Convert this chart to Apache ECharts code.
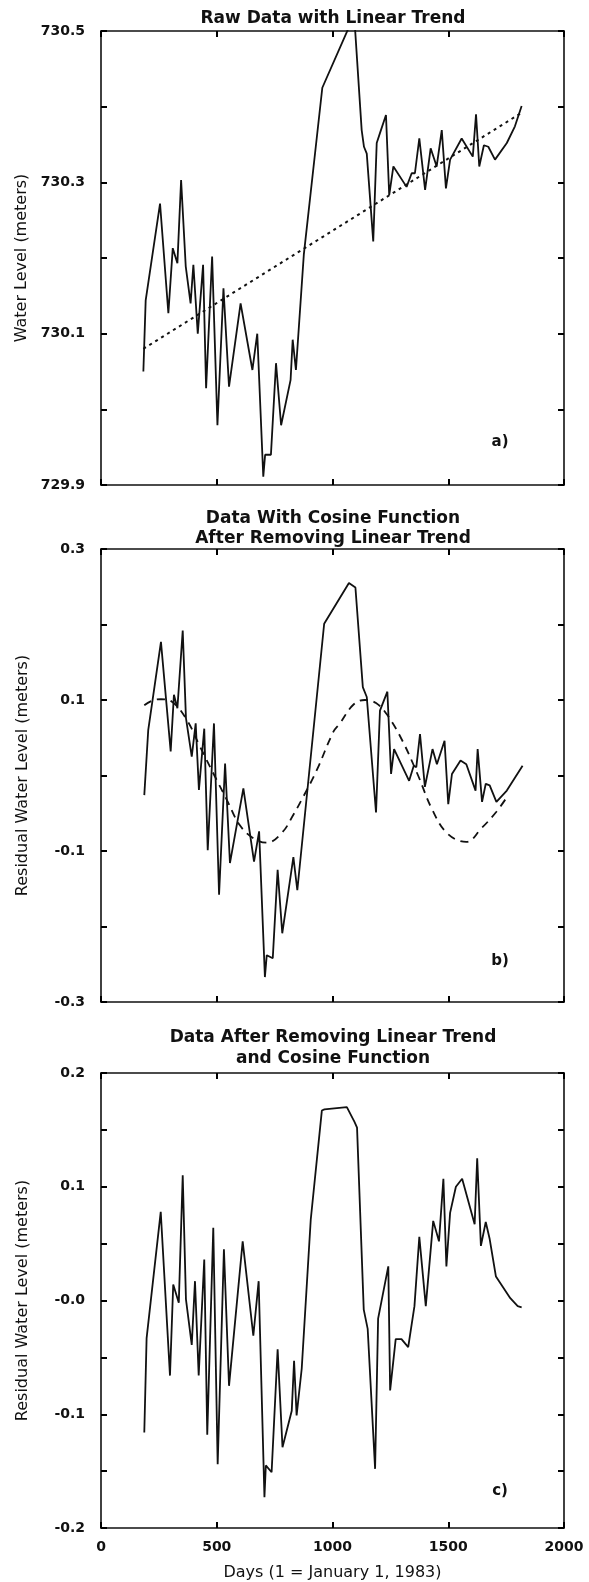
<!DOCTYPE html>
<html>
<head>
<meta charset="utf-8">
<style>
html,body{margin:0;padding:0;background:#fff;}
#chart{width:589px;height:1582px;}
</style>
<script src="https://cdn.jsdelivr.net/npm/echarts@6/dist/echarts.min.js"></script>
</head>
<body>
<div id="chart"></div>
<script>
// ---- Panel a: raw water level (meters) ----
const rawDays = [183,193,255,291,310,330,346,366,387,399,418,441,454,480,503,529,553,603,654,675,701,709,734,756,778,819,828,842,876,956,1071,1097,1126,1136,1148,1176,1191,1205,1231,1245,1263,1320,1342,1356,1375,1400,1424,1450,1472,1490,1508,1558,1606,1620,1634,1654,1673,1702,1753,1788,1817];
const rawLevels = [730.050,730.144,730.272,730.127,730.213,730.193,730.303,730.189,730.140,730.191,730.100,730.191,730.028,730.202,729.979,730.160,730.030,730.140,730.052,730.100,729.911,729.940,729.940,730.061,729.979,730.039,730.092,730.052,730.204,730.425,730.505,730.505,730.369,730.347,730.338,730.222,730.352,730.365,730.389,730.283,730.321,730.294,730.312,730.312,730.358,730.290,730.345,730.321,730.369,730.292,730.330,730.358,730.334,730.390,730.321,730.349,730.347,730.330,730.352,730.374,730.401];
const trendDays = [183,1817];
const trendLevels = [730.080,730.392];

// ---- Panel b: residual after removing linear trend, with fitted cosine ----
const residDays = [187,204,259,301,315,330,353,367,392,409,423,446,461,488,510,536,557,615,661,683,708,716,742,763,783,831,848,964,1071,1099,1131,1148,1188,1205,1237,1253,1266,1331,1351,1362,1378,1399,1432,1451,1484,1500,1516,1553,1578,1618,1627,1646,1662,1679,1708,1753,1821];
const residLevels = [-0.026,0.060,0.177,0.032,0.107,0.089,0.192,0.076,0.025,0.069,-0.019,0.062,-0.099,0.069,-0.158,0.016,-0.116,-0.017,-0.114,-0.074,-0.267,-0.238,-0.242,-0.125,-0.209,-0.108,-0.152,0.201,0.255,0.249,0.117,0.104,-0.049,0.086,0.111,0.002,0.035,-0.007,0.013,0.011,0.055,-0.015,0.035,0.015,0.046,-0.038,0.002,0.020,0.015,-0.020,0.035,-0.035,-0.011,-0.013,-0.035,-0.020,0.013];
const cosineDays = [187,220,259,305,370,428,485,543,600,658,716,781,831,874,932,1004,1032,1091,1140,1188,1237,1302,1367,1432,1497,1578,1643,1708,1757];
const cosineLevels = [0.093,0.099,0.101,0.098,0.074,0.038,0.003,-0.032,-0.066,-0.083,-0.089,-0.076,-0.052,-0.028,0.007,0.058,0.069,0.094,0.100,0.096,0.080,0.046,0.002,-0.046,-0.077,-0.088,-0.070,-0.048,-0.027];

// ---- Panel c: residual after removing trend and cosine ----
const finalDays = [187,197,258,298,312,336,353,367,392,406,422,446,459,485,504,531,553,612,658,681,706,712,737,763,784,824,834,845,867,906,954,965,1062,1095,1106,1135,1152,1184,1197,1241,1249,1273,1298,1327,1354,1375,1403,1435,1460,1479,1492,1508,1533,1560,1614,1625,1641,1662,1679,1706,1768,1800,1817];
const finalLevels = [-0.116,-0.033,0.078,-0.066,0.014,-0.002,0.110,0.001,-0.039,0.017,-0.066,0.036,-0.118,0.064,-0.144,0.045,-0.075,0.052,-0.031,0.017,-0.173,-0.145,-0.151,-0.043,-0.129,-0.097,-0.053,-0.101,-0.060,0.071,0.167,0.168,0.170,0.157,0.152,-0.008,-0.025,-0.148,-0.016,0.030,-0.079,-0.034,-0.034,-0.041,-0.005,0.056,-0.005,0.070,0.052,0.107,0.030,0.077,0.100,0.107,0.067,0.125,0.048,0.069,0.054,0.021,0.002,-0.005,-0.006];

// ---- Tick labels ----
const xTickLabels = ['0','500','1000','1500','2000'];
const yTickLabelsA = ['729.9','730.1','730.3','730.5'];
const yTickLabelsB = ['-0.3','-0.1','0.1','0.3'];
const yTickLabelsC = ['-0.2','-0.1','-0.0','0.1','0.2'];

// ---- Texts ----
const titles = ['Raw Data with Linear Trend','Data With Cosine Function\nAfter Removing Linear Trend','Data After Removing Linear Trend\nand Cosine Function'];
const panelTags = ['a)','b)','c)'];
const yNames = ['Water Level (meters)','Residual Water Level (meters)','Residual Water Level (meters)'];
const xName = 'Days (1 = January 1, 1983)';

const zip = (xs, ys) => xs.map((x, i) => [x, ys[i]]);
const FONT = 'DejaVu Sans';
const INK = '#111';
const TICK_INK = '#000';

function pickLabel(list) {
  return function (v) {
    const s = list.find(l => Math.abs(parseFloat(l) - v) < 1e-6);
    return s === undefined ? '' : s;
  };
}

const grids = [
  {left: 101, top: 31, width: 463, height: 454},
  {left: 101, top: 549, width: 463, height: 453},
  {left: 101, top: 1073, width: 463, height: 457}
].map(g => Object.assign({show: false, containLabel: false}, g));

function mkTick() { return {show: true, inside: true, length: 6, lineStyle: {color: TICK_INK, width: 2}}; }
function mkLine() { return {show: true, onZero: false, lineStyle: {color: INK, width: 1.6}}; }

const xAxes = [];
const yAxes = [];
const yRanges = [[729.9, 730.5, 0.1, yTickLabelsA], [-0.3, 0.3, 0.1, yTickLabelsB], [-0.2, 0.2, 0.05, yTickLabelsC]];
for (let i = 0; i < 3; i++) {
  const last = i === 2;
  xAxes.push({
    type: 'value', gridIndex: i, position: 'bottom', min: 0, max: 2000, interval: 500,
    axisLine: mkLine(), axisTick: mkTick(), splitLine: {show: false},
    axisLabel: {show: last, margin: 12, color: INK, fontFamily: FONT, fontWeight: 'bold', fontSize: 14, formatter: pickLabel(xTickLabels)},
    name: last ? xName : '', nameLocation: 'middle', nameGap: 37,
    nameTextStyle: {color: INK, fontFamily: FONT, fontSize: 16}
  });
  xAxes.push({
    type: 'value', gridIndex: i, position: 'top', min: 0, max: 2000, interval: 500,
    axisLine: mkLine(), axisTick: mkTick(), splitLine: {show: false}, axisLabel: {show: false}
  });
  const r = yRanges[i];
  yAxes.push({
    type: 'value', gridIndex: i, position: 'left', min: r[0], max: r[1], interval: r[2],
    axisLine: mkLine(), axisTick: mkTick(), splitLine: {show: false},
    axisLabel: {margin: 16, color: INK, fontFamily: FONT, fontWeight: 'bold', fontSize: 14, formatter: pickLabel(r[3])},
    name: yNames[i], nameLocation: 'middle', nameGap: 70, nameRotate: 90,
    nameTextStyle: {color: INK, fontFamily: FONT, fontSize: 16}
  });
  yAxes.push({
    type: 'value', gridIndex: i, position: 'right', min: r[0], max: r[1], interval: r[2],
    axisLine: mkLine(), axisTick: mkTick(), splitLine: {show: false}, axisLabel: {show: false}
  });
}

const solid = {color: INK, width: 1.8, type: 'solid'};
const series = [
  {name: 'Raw', type: 'line', xAxisIndex: 0, yAxisIndex: 0, data: zip(rawDays, rawLevels), showSymbol: false, lineStyle: solid, z: 3},
  {name: 'Trend', type: 'line', xAxisIndex: 0, yAxisIndex: 0, data: zip(trendDays, trendLevels), showSymbol: false, lineStyle: {color: INK, width: 2, type: [3, 4]}, z: 2},
  {name: 'Residual', type: 'line', xAxisIndex: 2, yAxisIndex: 2, data: zip(residDays, residLevels), showSymbol: false, lineStyle: solid, z: 3},
  {name: 'Cosine', type: 'line', xAxisIndex: 2, yAxisIndex: 2, data: zip(cosineDays, cosineLevels), showSymbol: false, smooth: 0.4, lineStyle: {color: INK, width: 1.8, type: [8, 6]}, z: 2},
  {name: 'Final', type: 'line', xAxisIndex: 4, yAxisIndex: 4, data: zip(finalDays, finalLevels), showSymbol: false, lineStyle: solid, z: 3}
];

const titleStyle = {color: INK, fontFamily: FONT, fontWeight: 'bold', fontSize: 17, lineHeight: 20};
const tagStyle = {color: INK, fontFamily: FONT, fontWeight: 'bold', fontSize: 15, lineHeight: 18};
const title = [
  {text: titles[0], left: 333, top: 9, textAlign: 'center', padding: 0, textStyle: titleStyle},
  {text: titles[1], left: 333, top: 509, textAlign: 'center', padding: 0, textStyle: titleStyle},
  {text: titles[2], left: 333, top: 1027, textAlign: 'center', padding: 0, textStyle: Object.assign({}, titleStyle, {lineHeight: 21})},
  {text: panelTags[0], left: 500, top: 433, textAlign: 'center', padding: 0, textStyle: tagStyle},
  {text: panelTags[1], left: 500, top: 952, textAlign: 'center', padding: 0, textStyle: tagStyle},
  {text: panelTags[2], left: 500, top: 1482, textAlign: 'center', padding: 0, textStyle: tagStyle}
];

const chart = echarts.init(document.getElementById('chart'), null, {renderer: 'canvas'});
chart.setOption({
  backgroundColor: '#fff',
  animation: false,
  title: title,
  grid: grids,
  xAxis: xAxes,
  yAxis: yAxes,
  series: series
});
</script>
</body>
</html>
